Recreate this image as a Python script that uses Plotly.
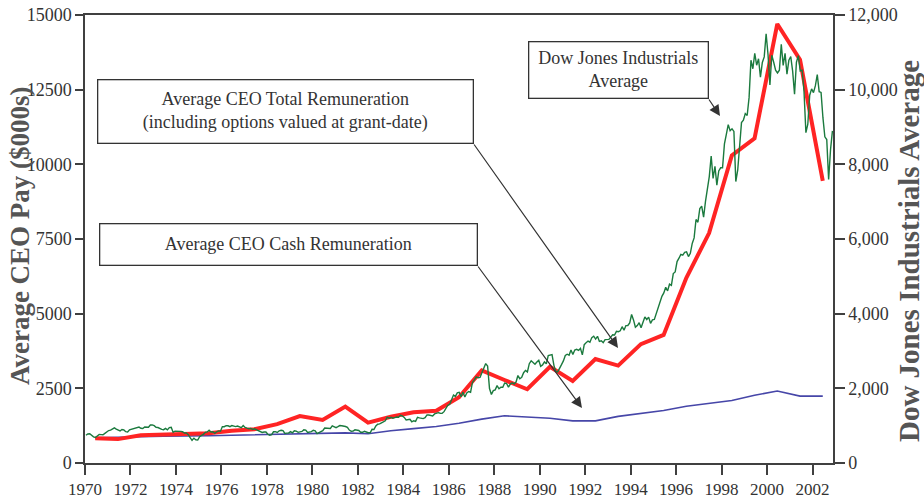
import plotly.graph_objects as go

# ---------------- data ----------------
years = list(range(1970, 2003))

# Average CEO total remuneration ($000s), annual
total_pay = [830, 800, 930, 960, 970, 1000, 1080, 1130, 1300, 1570,
             1440, 1890, 1350, 1550, 1700, 1750, 2200, 3100, 2780, 2470,
             3220, 2750, 3480, 3260, 3980, 4290, 6200, 7700, 10300, 10870,
             14700, 13500, 9450]

# Average CEO cash remuneration ($000s), annual
cash_pay = [840, 850, 880, 900, 900, 910, 930, 950, 970, 990,
            1000, 1010, 980, 1080, 1150, 1220, 1330, 1470, 1580, 1550,
            1500, 1410, 1410, 1560, 1660, 1760, 1900, 2000, 2090, 2270,
            2410, 2240, 2240]

# Dow Jones Industrial Average, monthly, Jan 1970 - Nov 2002
djia_start_year = 1970
djia_monthly = [
    744, 778, 785, 736, 700, 683, 734, 765, 761, 756, 794, 839,
    869, 879, 904, 942, 907, 891, 858, 898, 887, 839, 831, 890,
    902, 928, 941, 954, 961, 929, 925, 964, 953, 956, 1018, 1020,
    999, 955, 951, 921, 901, 892, 926, 888, 947, 957, 822, 851,
    856, 861, 847, 837, 802, 802, 757, 679, 608, 666, 619, 616,
    704, 739, 768, 821, 832, 879, 832, 835, 794, 836, 861, 852,
    975, 973, 1000, 997, 975, 1003, 985, 974, 991, 965, 947, 1005,
    954, 936, 919, 927, 899, 916, 891, 862, 847, 818, 830, 831,
    770, 742, 757, 837, 841, 819, 862, 877, 866, 793, 799, 805,
    839, 809, 862, 855, 822, 842, 846, 888, 879, 816, 822, 839,
    876, 863, 786, 817, 851, 868, 935, 933, 932, 925, 993, 964,
    948, 975, 1004, 998, 992, 977, 953, 882, 850, 853, 889, 875,
    871, 824, 823, 848, 820, 812, 809, 901, 896, 992, 1039, 1047,
    1076, 1113, 1130, 1226, 1200, 1222, 1199, 1216, 1233, 1225, 1276, 1259,
    1221, 1155, 1165, 1171, 1105, 1132, 1115, 1224, 1207, 1207, 1189, 1212,
    1287, 1284, 1267, 1258, 1315, 1336, 1348, 1334, 1329, 1375, 1472, 1547,
    1571, 1710, 1819, 1784, 1877, 1893, 1775, 1898, 1768, 1878, 1914, 1896,
    2158, 2224, 2305, 2286, 2292, 2419, 2572, 2663, 2596, 1994, 1834, 1939,
    1958, 2072, 1988, 2032, 2031, 2142, 2129, 2032, 2113, 2149, 2115, 2169,
    2343, 2258, 2294, 2419, 2480, 2440, 2661, 2737, 2693, 2645, 2706, 2753,
    2591, 2627, 2707, 2657, 2877, 2881, 2905, 2615, 2453, 2442, 2560, 2634,
    2736, 2882, 2914, 2888, 3028, 2907, 3025, 3044, 3017, 3069, 2895, 3169,
    3224, 3267, 3236, 3359, 3397, 3319, 3394, 3257, 3272, 3226, 3306, 3301,
    3310, 3371, 3435, 3428, 3527, 3516, 3540, 3651, 3555, 3681, 3684, 3754,
    3978, 3832, 3636, 3682, 3758, 3625, 3765, 3913, 3843, 3908, 3739, 3834,
    3844, 4011, 4158, 4321, 4465, 4556, 4709, 4611, 4789, 4756, 5075, 5117,
    5395, 5486, 5588, 5569, 5643, 5655, 5529, 5616, 5882, 6029, 6522, 6448,
    6813, 6878, 6584, 7009, 7331, 7673, 8223, 7622, 7945, 7442, 7823, 7908,
    7907, 8546, 8800, 9063, 8900, 8952, 8883, 7539, 7843, 8592, 9117, 9181,
    9359, 9307, 9786, 10789, 10560, 10971, 10655, 10829, 10337, 10729, 10878, 11497,
    10941, 10128, 10922, 10734, 10522, 10448, 10522, 11215, 10651, 10971, 10415, 10787,
    10887, 10495, 9879, 10735, 10912, 10502, 10523, 9950, 8848, 9075, 9852, 10022,
    9920, 10106, 10404, 9946, 9925, 9243, 8737, 8664, 7592, 8397, 8896,
]

x_tick_values = list(range(1970, 2003, 2))
left_tick_values = [0, 2500, 5000, 7500, 10000, 12500, 15000]
right_tick_values = [0, 2000, 4000, 6000, 8000, 10000, 12000]

left_title = "Average CEO Pay ($000s)"
right_title = "Dow Jones Industrials Average"

# ---------------- figure ----------------
pay_x = [y + 0.45 for y in years]
djia_x = [djia_start_year + (i + 0.5) / 12 for i in range(len(djia_monthly))]

SERIF = "Liberation Serif, Times New Roman, serif"
AX = "#404040"
TXT = "#333333"

fig = go.Figure()
fig.add_trace(go.Scatter(x=pay_x, y=cash_pay, mode="lines",
                         line=dict(color="#4646a8", width=1.6),
                         name="Average CEO Cash Remuneration", yaxis="y"))
fig.add_trace(go.Scatter(x=pay_x, y=total_pay, mode="lines",
                         line=dict(color="#ff2424", width=4),
                         name="Average CEO Total Remuneration", yaxis="y"))
fig.add_trace(go.Scatter(x=djia_x, y=djia_monthly, mode="lines",
                         line=dict(color="#1b7a3e", width=1.4),
                         name="Dow Jones Industrials Average", yaxis="y2"))

fig.update_layout(
    width=924, height=500,
    margin=dict(l=85, r=91, t=15, b=37, autoexpand=False),
    paper_bgcolor="white", plot_bgcolor="white",
    showlegend=False,
    font=dict(family=SERIF, color=TXT, size=18),
    xaxis=dict(range=[1970, 2002.9], tickvals=x_tick_values, automargin=False,
               ticks="outside", ticklen=10, tickwidth=1.5, tickcolor=AX,
               showline=True, linecolor=AX, linewidth=1.5, mirror=True,
               showgrid=False, zeroline=False, ticklabeloverflow="allow",
               tickfont=dict(family=SERIF, size=17, color=TXT)),
    yaxis=dict(range=[0, 15000], tickvals=left_tick_values, tickformat="d",
               automargin=False, ticklabeloverflow="allow",
               ticks="outside", ticklen=8, tickwidth=1.5, tickcolor=AX,
               showline=True, linecolor=AX, linewidth=1.5,
               showgrid=False, zeroline=False,
               tickfont=dict(family=SERIF, size=18, color=TXT)),
    yaxis2=dict(range=[0, 12000], tickvals=right_tick_values, tickformat=",d",
                overlaying="y", side="right", automargin=False,
                ticklabeloverflow="allow",
                ticks="outside", ticklen=10, tickwidth=1.5, tickcolor=AX,
                showline=True, linecolor=AX, linewidth=1.5,
                showgrid=False, zeroline=False,
                tickfont=dict(family=SERIF, size=18, color=TXT)),
)

# axis titles placed as rotated annotations for exact positioning
fig.add_annotation(text="<b>" + left_title + "</b>", textangle=-90,
                   xref="paper", yref="paper", x=-0.0866, y=0.507,
                   xanchor="center", yanchor="middle", showarrow=False,
                   font=dict(family=SERIF, size=27, color="#555555"))
fig.add_annotation(text="<b>" + right_title + "</b>", textangle=-90,
                   xref="paper", yref="paper", x=1.1015, y=0.473,
                   xanchor="center", yanchor="middle", showarrow=False,
                   font=dict(family=SERIF, size=29, color="#555555"))

box_font = dict(family=SERIF, size=18, color=TXT)
boxes = [
    ("Average CEO Total Remuneration<br>(including options valued at grant-date)",
     0.2674, 0.7857, 372, 60),
    ("Average CEO Cash Remuneration", 0.2714, 0.4888, 374, 38),
    ("Dow Jones Industrials<br>Average", 0.7126, 0.8783, 176, 53),
]
for text, xp, yp, w, h in boxes:
    fig.add_annotation(text=text, xref="paper", yref="paper", x=xp, y=yp,
                       xanchor="center", yanchor="middle", showarrow=False,
                       width=w, height=h, bgcolor="white", bordercolor=TXT,
                       borderwidth=1.3, borderpad=1, font=box_font, align="center")

arrows = [
    (0.7126, 0.2567, -145, -205),
    (0.6644, 0.1228, -105, -143),
    (0.8489, 0.7746, -12, -18),
]
for xp, yp, ax, ay in arrows:
    fig.add_annotation(text="", xref="paper", yref="paper", x=xp, y=yp,
                       ax=ax, ay=ay, axref="pixel", ayref="pixel",
                       showarrow=True, arrowhead=2, arrowsize=1.8,
                       arrowwidth=1.2, arrowcolor=TXT, standoff=0)

# remove the default 8px page margin so the figure fills the window exactly
fig.write_html("out.html",
               config={"displayModeBar": False},
               post_script="document.body.style.margin='0px';"
                           "document.body.style.overflow='hidden';")
